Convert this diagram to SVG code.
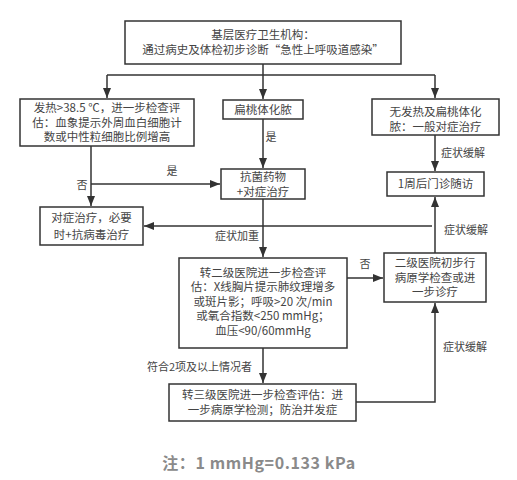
<svg xmlns="http://www.w3.org/2000/svg" width="517" height="480" viewBox="0 0 517 480">
<defs>
<style>
.box{fill:#fff;stroke:#333;stroke-width:1.5}
.t{font-family:"Noto Sans CJK SC","Noto Sans",sans-serif;font-size:11.5px;fill:#444;text-anchor:middle}
.l{font-family:"Noto Sans CJK SC","Noto Sans",sans-serif;font-size:11px;fill:#444}
.c{fill:none;stroke:#333;stroke-width:1.5}
.note{font-family:"Noto Sans CJK SC","Noto Sans",sans-serif;font-size:16px;font-weight:bold;fill:#8a8a8a;text-anchor:middle;letter-spacing:0.6px}
</style>
<marker id="ah" markerUnits="userSpaceOnUse" markerWidth="10" markerHeight="8" refX="10" refY="4" orient="auto">
<path d="M0,0 L10,4 L0,8 Z" fill="#333"/>
</marker>
</defs>
<rect width="517" height="480" fill="#fff"/>
<g id="connectors">
<path class="c" d="M263,64 V75"/>
<path class="c" d="M107,75 H435"/>
<path class="c" d="M107,75 V98" marker-end="url(#ah)"/>
<path class="c" d="M263,75 V99" marker-end="url(#ah)"/>
<path class="c" d="M435,75 V98" marker-end="url(#ah)"/>
<path class="c" d="M91,146 V206" marker-end="url(#ah)"/>
<path class="c" d="M91,184 H220" marker-end="url(#ah)"/>
<path class="c" d="M263,119 V168" marker-end="url(#ah)"/>
<path class="c" d="M435,135 V171" marker-end="url(#ah)"/>
<path class="c" d="M432,226 H144" marker-end="url(#ah)"/>
<path class="c" d="M263,199 V257" marker-end="url(#ah)"/>
<path class="c" d="M347,278 H383" marker-end="url(#ah)"/>
<path class="c" d="M263,348 V383" marker-end="url(#ah)"/>
<path class="c" d="M356,402 H435 V303" marker-end="url(#ah)"/>
<path class="c" d="M435,253 V197" marker-end="url(#ah)"/>
<text class="l" x="172" y="175" text-anchor="middle">是</text>
<text class="l" x="82" y="189" text-anchor="middle">否</text>
<text class="l" x="271" y="141" text-anchor="middle">是</text>
<text class="l" x="441" y="157">症状缓解</text>
<text class="l" x="237" y="240" text-anchor="middle">症状加重</text>
<text class="l" x="444" y="234">症状缓解</text>
<text class="l" x="365" y="268" text-anchor="middle">否</text>
<text class="l" x="443" y="351">症状缓解</text>
<text class="l" x="252" y="371" text-anchor="end">符合2项及以上情况者</text>
</g>
<g id="top">
<rect class="box" x="125" y="21" width="276" height="43"/>
<text class="t" x="263" y="39">基层医疗卫生机构：</text>
<text class="t" x="263" y="54">通过病史及体检初步诊断“急性上呼吸道感染”</text>
</g>
<g id="fever">
<rect class="box" x="20" y="99" width="174" height="47"/>
<text class="t" x="107" y="112">发热&gt;38.5 ℃，进一步检查评</text>
<text class="t" x="107" y="126.5">估：血象提示外周血白细胞计</text>
<text class="t" x="107" y="141">数或中性粒细胞比例增高</text>
</g>
<g id="tonsil">
<rect class="box" x="223" y="100" width="80" height="19"/>
<text class="t" x="263" y="114">扁桃体化脓</text>
</g>
<g id="nofever">
<rect class="box" x="372" y="99" width="127" height="36"/>
<text class="t" x="435.5" y="116">无发热及扁桃体化</text>
<text class="t" x="435.5" y="131">脓：一般对症治疗</text>
</g>
<g id="followup">
<rect class="box" x="387" y="172" width="97" height="24"/>
<text class="t" x="435.5" y="188">1周后门诊随访</text>
</g>
<g id="antibiotic">
<rect class="box" x="221" y="169" width="84" height="30"/>
<text class="t" x="263" y="181">抗菌药物</text>
<text class="t" x="263" y="196">+对症治疗</text>
</g>
<g id="symptomatic">
<rect class="box" x="40" y="207" width="103" height="38"/>
<text class="t" x="91.5" y="222">对症治疗，必要</text>
<text class="t" x="91.5" y="239">时+抗病毒治疗</text>
</g>
<g id="secondary">
<rect class="box" x="179" y="258" width="168" height="90"/>
<text class="t" x="263" y="276.5">转二级医院进一步检查评</text>
<text class="t" x="263" y="291">估：X线胸片提示肺纹理增多</text>
<text class="t" x="263" y="305.5">或斑片影；呼吸&gt;20 次/min</text>
<text class="t" x="263" y="320">或氧合指数&lt;250 mmHg；</text>
<text class="t" x="263" y="334.5">血压&lt;90/60mmHg</text>
</g>
<g id="secondary2">
<rect class="box" x="384" y="253" width="102" height="49"/>
<text class="t" x="435" y="267">二级医院初步行</text>
<text class="t" x="435" y="281.5">病原学检查或进</text>
<text class="t" x="435" y="296">一步诊疗</text>
</g>
<g id="tertiary">
<rect class="box" x="169" y="384" width="187" height="37"/>
<text class="t" x="262.5" y="399">转三级医院进一步检查评估：进</text>
<text class="t" x="262.5" y="414">一步病原学检测；防治并发症</text>
</g>
<text class="note" x="259" y="469">注：1 mmHg=0.133 kPa</text>
</svg>
